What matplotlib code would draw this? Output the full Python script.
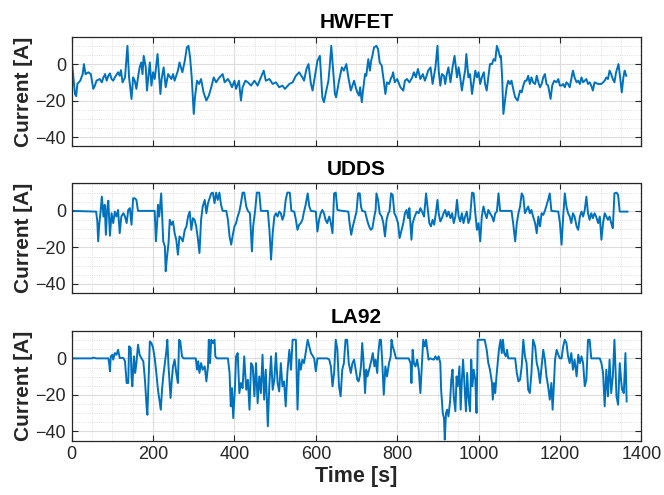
import matplotlib
matplotlib.use("Agg")
import matplotlib.pyplot as plt
from matplotlib.ticker import MultipleLocator

plt.rcParams['font.family'] = ['Liberation Sans', 'DejaVu Sans']

# ---------------- data ----------------
hwfet_t = [1, 8, 11, 14, 21, 27, 30, 34, 41, 47, 53, 57, 61, 69, 74, 78, 82, 86, 90, 94, 98, 102, 106, 114, 118, 121, 125, 131, 137, 141, 147, 151, 155, 159, 163, 167, 171, 174, 177, 182, 185, 189, 192, 196, 200, 204, 211, 218, 221, 226, 231, 237, 245, 249, 253, 261, 265, 272, 278, 283, 287, 291, 295, 300, 303, 308, 313, 318, 324, 331, 337, 343, 349, 355, 363, 371, 376, 384, 389, 394, 400, 404, 411, 416, 420, 427, 433, 441, 449, 457, 465, 472, 477, 486, 494, 502, 510, 518, 524, 535, 543, 551, 559, 567, 571, 577, 582, 588, 592, 596, 604, 610, 616, 620, 624, 631, 634, 638, 642, 647, 650, 657, 664, 669, 675, 680, 686, 690, 694, 698, 702, 706,
           709, 713, 716, 721, 724, 729, 733, 736, 739, 743, 749, 753, 757, 762, 767, 771, 775, 780, 784, 788, 790, 794, 800, 808, 815, 819, 824, 830, 837, 841, 846, 851, 857, 863, 868, 871, 876, 882, 887, 894, 899, 902, 906, 910, 915, 918, 922, 926, 931, 936, 941, 947, 951, 955, 959, 964, 967, 970, 975, 979, 984, 988, 992, 996, 1000, 1004, 1008, 1013, 1016, 1020, 1024, 1028, 1033, 1037, 1041, 1045, 1049, 1053, 1055, 1058, 1061, 1065, 1069, 1073, 1077, 1081, 1086, 1090, 1096, 1102, 1106, 1110, 1114, 1118, 1122, 1126, 1130, 1134, 1139, 1143, 1147, 1151, 1155, 1159, 1163, 1167, 1171, 1177, 1181, 1186, 1192, 1196, 1200, 1204, 1208, 1212, 1216, 1220, 1224, 1228, 1232, 1236, 1241, 1245, 1249, 1253, 1257, 1261, 1265, 1269, 1273, 1277, 1281, 1285, 1294, 1302, 1310, 1314, 1318, 1322, 1326, 1330, 1334, 1338, 1344, 1348, 1352, 1356, 1359, 1363]
hwfet_i = [0, -16.4, -17.6, -10.9, -9.1, -5.5, 0, -5.5, -4.5, -5.5, -13.6, -11.8, -9.1, -8.2, -10, -7.3, -5.5, -9.1, -6.4, -5.1, -8.2, -9.1, -7.3, -4.5, -6.4, -3.3, -10, -7.3, 10, -7.3, -19.1, -7.3, -9.1, -13.6, -7.3, -1.8, 0.9, -5.5, 4.5, -1.8, -14.5, -5.5, 0.9, -11.8, -4.5, -8.2, 5.5, -16.4, -8.2, -1.8, -12.7, -5.5, -8.2, -5.5, -9.1, -3.6, 0.9, -4.5, 1.8, 9.1, 10, 3.6, -7.3, -27.3, -18.2, -9.1, -10.9, -8.2, -15.5, -20, -17.3, -12.7, -7.3, -10, -7.3, -5.5, -10, -8.2, -10, -12.7, -9.1, -13.6, -9.1, -20, -12.7, -9.1, -10, -11.8, -9.1, -11.8, -7.3, -3.6, -9.1, -8.2, -10.9, -10, -12.7, -11.8, -13.6, -10.9, -10, -6.4, -4.5, -7.3, -9.1, -2.7, 0, -10.9, -14.5, -9.1, 1.8, 4.5, -18.2, -20.9, -16.4, -9.1, -1.8, 10, -1.8, -16.4, -18.2, -9.1, -1.8, -3.6, 0, -7.3, -14.5, -11.8, -9.1, -12.7, -15.5, -17.3,
           -12.7, -20.9, -14.5, -5.5, -6.4, 2.7, -3.6, 1.8, 4.5, 9.1, 10, 8.2, 0.9, -0.9, -9.1, -16.4, -10, -10.9, -8.2, -6.4, -4.5, -10, -8.2, -12.7, -14.5, -9.1, -8.2, -10, -7.3, -4.5, -7.3, -2.7, -8.2, -5.5, -9.1, -7.3, -3.6, -1.8, -10.9, -1.8, 10, -3.6, -11.8, -5.5, -6.4, -10.9, -5.5, -1.8, -10, -1.8, 4.5, -7.3, -1.8, -7.3, -14.5, -7.3, -3.6, 5.5, -7.3, -5.5, -16.4, -10, -3.6, -7.3, -4.5, -10.9, -7.3, -4.5, -10.9, -14.5, -7.3, 0, 0, 2.7, 1.8, 10, 7.3, 3.6, 4.5, -7.3, -27.3, -20, -12.7, -9.1, -10.9, -9.1, -14.5, -18.2, -20, -14.5, -15.5, -11.8, -9.1, -9.1, -6.4, -10.9, -7.3, -10, -10.9, -6.4, -10, -12.7, -10.9, -7.3, -5.5, -10.9, -11.8, -19.1, -11.8, -9.1, -10, -8.2, -11.8, -11.8, -10.9, -12.7, -10, -10.9, -12.7, -8.2, -3.6, -7.3, -10, -9.1, -10.9, -7.3, -10, -9.1, -8.2, -10.9, -10, -11.8, -14.5, -10, -10.9, -10.9, -9.1, -7.3, -8.2, -3.6, -5.5, -8.2, -10, -4.5, 0, -7.3, -15.5, -7.3, -3.6, -6.4]

udds_t = [0, 60, 63, 65, 68, 71, 74, 78, 81, 84, 87, 90, 94, 98, 102, 106, 110, 114, 118, 122, 127, 131, 135, 139, 143, 147, 151, 155, 159, 163, 204, 207, 210, 212, 215, 220, 225, 229, 231, 234, 238, 241, 245, 249, 253, 257, 261, 265, 269, 273, 278, 282, 286, 290, 294, 298, 302, 306, 310, 314, 318, 322, 327, 331, 335, 339, 343, 347, 351, 355, 359, 363, 367, 371, 380, 384, 388, 392, 396, 400, 404, 408, 412, 416, 420, 424, 429, 433, 438, 443, 446, 451, 455, 461, 465, 482, 486, 490, 494, 498, 502, 506, 510, 514, 518, 522, 526, 530, 536, 540, 547, 551, 555, 559, 563, 567, 571, 575, 580, 584, 588, 600, 604, 608, 612, 616, 620, 624, 628, 633, 637, 641, 645, 649, 653, 665, 680, 683, 687, 691, 696, 700, 704,
          708, 711, 714, 721, 727, 731, 735, 739, 743, 747, 749, 753, 757, 762, 766, 770, 774, 778, 781, 785, 789, 793, 797, 802, 806, 811, 815, 819, 823, 827, 830, 835, 838, 843, 848, 853, 857, 861, 866, 871, 875, 879, 883, 887, 891, 895, 899, 902, 906, 910, 914, 918, 922, 926, 931, 935, 939, 943, 947, 951, 955, 959, 963, 967, 971, 975, 979, 984, 988, 992, 996, 1000, 1004, 1008, 1012, 1016, 1020, 1024, 1028, 1033, 1037, 1041, 1045, 1049, 1053, 1081, 1085, 1090, 1094, 1098, 1102, 1106, 1110, 1114, 1118, 1122, 1126, 1130, 1134, 1139, 1143, 1147, 1151, 1155, 1159, 1163, 1171, 1175, 1179, 1196, 1200, 1204, 1208, 1212, 1216, 1220, 1224, 1228, 1232, 1236, 1241, 1245, 1249, 1253, 1257, 1261, 1265, 1269, 1273, 1277, 1281, 1285, 1289, 1294, 1298, 1302, 1306, 1310, 1314, 1318, 1322, 1326, 1330, 1334, 1339, 1343, 1347, 1366]
udds_i = [0, -0.4, -5.8, -16.7, -6.7, -0.4, 7.8, -3.1, 3.3, -13.1, 0.5, 5.6, -13.6, -1.3, -6.7, -0.4, -3.1, 0.5, -12.2, -3.1, -1.3, -3.1, -6.7, 0.5, 1.5, -7.6, 6.9, 6.9, 6, 0, 0, -16.7, -6.7, 3.3, -3.1, 9.6, -16.7, -19.5, -33.1, -25.8, -17.6, -4.9, -7.6, -5.8, -12.2, -15.8, -24, -14, -14.9, -16.7, -10.4, -8.5, -3.1, -0.4, -10.4, -4, -4.9, -8.5, -14.9, -23.1, -4.9, 2.4, 6, -1.3, 4.2, 6.9, 9.6, 10, 4.2, 10, 6, 10, 3.3, 0, 0, -4.9, -14, -18.5, -13.1, -8.5, -6.7, -3.1, -0.4, 4.2, 10, 10, 2.4, 0, -1.3, -22.2, -8.5, 0.5, 10, 10, 0, 0, -10.4, -26.7, -12.2, -3.1, -1.3, -3.1, -0.4, -1.3, -4.9, -2.2, 6, 10, 10, 0, -0.4, -4.9, -10.4, -7.6, -6.7, -4.9, -0.4, 3.3, 9.6, 2.4, 0, -0.4, -11.3, -4.9, -1.3, 0.5, -1.3, -4.9, -6.7, -3.1, -6.7, -12.2, 9.6, 10, 0.5, 0, -0.4, -6.7, -13.1, -8.5, -4, -0.4, 9.6,
          9.6, 2.4, 0, -0.4, -5.8, -8.5, -10.4, -9.5, -4, 0.5, 9.6, 6, -1.3, -3.1, -6.7, -14, -4.9, -1.3, -0.4, 9.6, 8.7, -1.3, -3.1, -6.7, -14.9, -10.4, -6.7, -1.3, 0.5, -4, 1.5, -15.8, -6.7, -3.1, -0.4, -1.3, 1.5, -0.4, -3.1, 9.6, 1.5, -6.7, -8.5, -4.9, -7.6, -1.3, 6, -1.3, -5.8, -4, -1.3, 0.5, -3.1, -0.4, -4, -1.3, -6.7, -3.1, 6, -3.1, -5.8, -1.3, -6.7, -3.1, -0.4, -6.7, -4, 10, 9.6, -1.3, -10.4, -6.7, -16.7, -3.1, 2.4, -1.3, -4, 0.5, -1.3, -3.1, -5.8, -1.3, -0.4, 9.6, 0, 0, -6.7, -16.7, -6.7, -1.3, 2.4, 9.6, 7.8, -1.3, 0.5, 2.4, -1.3, 0.5, -3.1, -6.7, -12.2, -3.1, -8.5, -1.3, -2.2, 0, 6, 9.6, 0, -0.4, -6.7, -18.5, -3.1, 9.6, 2.4, -1.3, -3.1, -6.7, -1.3, -3.1, -8.5, -10.4, -3.1, -0.4, -3.1, 0.5, 7.8, -1.3, -4.9, -1.3, -4, -1.3, -3.1, -6.7, -3.1, -15.8, -6.7, -1.3, -3.1, -4.9, -3.1, -6.7, -9.5, 9.6, 10, 8.7, -0.4, -0.4]

la92_t = [0, 49, 53, 60, 90, 92, 94, 96, 100, 102, 106, 110, 114, 118, 127, 131, 135, 139, 141, 145, 147, 149, 153, 156, 159, 163, 167, 171, 176, 180, 184, 186, 189, 192, 196, 200, 204, 208, 212, 215, 219, 222, 225, 229, 233, 235, 238, 243, 246, 249, 253, 257, 261, 264, 267, 271, 275, 305, 308, 311, 314, 318, 322, 327, 331, 335, 337, 340, 343, 347, 351, 353, 357, 384, 388, 391, 394, 397, 401, 404, 408, 412, 416, 420, 424, 429, 433, 437, 441, 445, 449, 453, 457, 461, 465, 469, 473, 477, 482, 486, 490, 494, 498, 502, 506, 510, 514, 518, 522, 526, 530, 535, 539, 543, 547, 551, 555, 559, 563, 567, 571, 575, 580, 584, 588, 596, 600, 604, 628, 633, 637, 641, 645, 649, 653, 657, 661, 665, 669, 673, 677, 681, 686, 690, 694, 698, 702, 705,
          708, 711, 714, 717, 721, 724, 727, 731, 735, 737, 740, 744, 747, 751, 753, 757, 760, 763, 767, 771, 775, 780, 784, 786, 789, 794, 797, 828, 833, 835, 838, 841, 845, 849, 853, 857, 861, 864, 868, 871, 874, 877, 881, 890, 894, 898, 902, 906, 908, 912, 915, 917, 920, 923, 926, 930, 933, 936, 939, 943, 946, 949, 953, 956, 959, 962, 966, 969, 972, 975, 979, 982, 985, 988, 992, 995, 998, 1008, 1015, 1020, 1024, 1028, 1033, 1035, 1038, 1041, 1044, 1047, 1050, 1054, 1057, 1060, 1063, 1067, 1070, 1073, 1090, 1094, 1098, 1102, 1106, 1110, 1114, 1118, 1122, 1126, 1130, 1134, 1139, 1143, 1147, 1151, 1155, 1159, 1163, 1167, 1171, 1175, 1179, 1182, 1185, 1188, 1192, 1196, 1200, 1204, 1208, 1212, 1216, 1220, 1224, 1228, 1232, 1236, 1241, 1245, 1249, 1253, 1257, 1261, 1265, 1269, 1273, 1277, 1298, 1302, 1306, 1310, 1314, 1318, 1322, 1326, 1330, 1334, 1339, 1343, 1347, 1351, 1353, 1357, 1361, 1364]
la92_i = [0, 0, 0.4, 0, 0, -2.6, -7.1, 1.1, 2, -0.7, 2.9, 2, 4.7, 0.2, 0.2, -1.6, -13.5, -13.5, 6.6, 5.7, -9.9, -15.3, 1.1, -8, -2.6, 7.5, 2, 0.2, -1.6, -11.7, -26.3, -30.9, -11.7, 9.3, 8.4, 5.7, 0.2, -8, -17.2, -21.7, -28.1, -17.2, -9.9, -2.6, 4.7, 10.2, -4.4, -21.7, -11.7, -4.4, -0.7, -8, -13.5, 10.2, 9.3, 1.1, 0, 0, -6.2, -1.6, -8, -2.6, -6.2, -4.4, -12.6, -4.4, 10.2, -2.6, 10.2, 8.4, 10.2, 1.1, 0, 0, -8, -26.3, -16.3, -32.7, -17.2, 1.1, 2.9, -19, -13.5, -16.3, 1.1, -17.2, -11.7, -28.1, -2.6, -4.4, -20.8, -2.6, -24.5, -9.9, -19, 2, -22.6, -6.2, -37.2, -13.5, 1.1, -17.2, -11.7, 2.9, -13.5, -18.1, -2.6, -15.3, -12.6, -26.3, -8, 4.7, -6.2, 10.2, 10.2, 10.2, -28.1, -0.7, -6.2, -0.7, -2.6, 2.9, 10.2, 6.6, 2.9, 0, -7.1, 0, 0, -0.7, -4.4, -15.3, -8, 10.2, 4.7, -15.3, -20.8, -6.2, -2.6, 10.2, 10.2, -2.6, -8, -2.6, -0.7, -6.2, -11.7, -12.6,
          -9.9, -4.4, 8.4, -0.7, -19, -6.2, -9.9, -6.2, -2.6, -0.7, 2.9, -4.4, -0.7, -8, 1.1, 10.2, 10.2, -0.7, -19.9, -4.4, -9.9, -2.6, 1.1, 10.2, 6.6, 2.9, 0, 0, -2.6, -13.5, 4.7, -2.6, -4.4, -0.7, -6.2, -19, -2.6, 10.2, 6.6, 10.2, 4.7, -0.7, 0, -0.7, 1.1, -0.7, 1.1, -2.6, -17.2, -29.9, -32.7, -44.5, -29.9, -28.1, -31.8, -23.6, -11.7, -6.2, -20.8, -29, -9.9, -15.3, -4.4, -28.1, -11.7, -0.7, -17.2, -29, -8, -20.8, -29, -0.7, -15.3, -6.2, -11.7, -29.9, 10.2, 10.2, 10.2, 4.7, -2.6, -6.2, -13.5, -22.6, -13.5, -19, -9.9, -2.6, 4.7, 10.2, 2.9, 10.2, 2.9, 1.1, 4.7, 0, 0, -8, -12.6, -11.7, -4.4, 10.2, 1.1, -2.6, -17.2, -19, -8, 10.2, 6.6, -2.6, -6.2, -13.5, -4.4, 4.7, -0.7, -9.9, -15.3, -22.6, -13.5, -28.1, -15.3, -0.7, 4.7, 2, 0, 0, 6.6, 10.2, 8.4, 1.1, -2.6, 2.9, -6.2, -0.7, -9.9, 2, -2.6, 1.1, -2.6, -15.3, -11.7, 10.2, 10.2, 0, 0, -2.6, -8, -26.3, -6.2, -20.8, -0.7, -19, -9.9, 10.2, -20.8, -25.4, -2.6, -13.5, -17.2, -19, 2.9, -23.6]

titles = ['HWFET', 'UDDS', 'LA92']
series = [(hwfet_t, hwfet_i), (udds_t, udds_i), (la92_t, la92_i)]
x_ticks = [0, 200, 400, 600, 800, 1000, 1200, 1400]
y_ticks = [-40, -20, 0]

# ---------------- figure ----------------
fig = plt.figure(figsize=(6.64, 4.95), dpi=100)
W, H = 664, 495
left_px, right_px = 71.7, 641.3
tops = [36.7, 183.5, 331]
h_px = 109.5

line_color = '#0072BD'
axis_color = '#262626'

for k, (title, (t, i)) in enumerate(zip(titles, series)):
    top = tops[k]
    ax = fig.add_axes([left_px / W, 1 - (top + h_px) / H, (right_px - left_px) / W, h_px / H])
    ax.plot(t, i, color=line_color, lw=1.4)
    ax.set_xlim(0, 1400)
    ax.set_ylim(-45, 15)
    ax.set_xticks(x_ticks)
    ax.set_yticks(y_ticks)
    ax.xaxis.set_minor_locator(MultipleLocator(50))
    ax.yaxis.set_minor_locator(MultipleLocator(5))
    ax.grid(True, which='major', color='#dcdcdc', lw=0.8, ls='-')
    ax.grid(True, which='minor', color='#d6d6d6', lw=0.6, ls=':')
    ax.set_axisbelow(True)
    ax.tick_params(which='both', direction='in', top=True, right=True, colors=axis_color,
                   labelsize=13, length=4, pad=4)
    ax.tick_params(which='minor', length=0)
    if k < 2:
        ax.set_xticklabels([])
    for sp in ax.spines.values():
        sp.set_color(axis_color)
        sp.set_linewidth(0.9)
    ax.set_title(title, fontsize=15, fontweight='bold', color='black', pad=6)
    ax.set_ylabel('Current [A]', fontsize=15, fontweight='bold', color=axis_color, labelpad=2)
    if k == 2:
        ax.set_xlabel('Time [s]', fontsize=15.5, fontweight='bold', color=axis_color, labelpad=2)

fig.savefig('out.png', dpi=100)
